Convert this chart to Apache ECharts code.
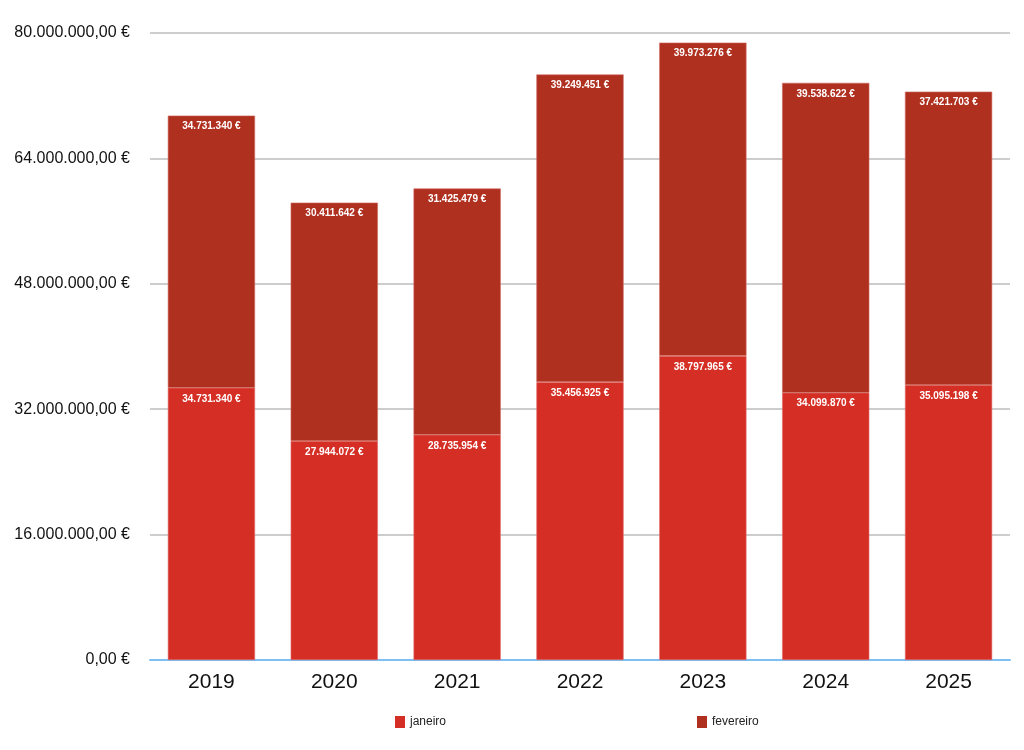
<!DOCTYPE html>
<html><head><meta charset="utf-8">
<script src="https://cdn.jsdelivr.net/npm/echarts@6/dist/echarts.min.js"></script>
<style>html,body{margin:0;padding:0;background:#fff}#c{width:1024px;height:750px}</style>
</head><body><div id="c"></div>
<script>
const years = ['2019','2020','2021','2022','2023','2024','2025'];
const janeiro = [34731340, 27944072, 28735954, 35456925, 38797965, 34099870, 35095198];
const fevereiro = [34731340, 30411642, 31425479, 39249451, 39973276, 39538622, 37421703];

function fmtInt(v){ return Math.round(v).toString().replace(/\B(?=(\d{3})+(?!\d))/g,'.'); }
function fmtAxis(v){ return fmtInt(v) + ',00 €'; }

const chart = echarts.init(document.getElementById('c'));
const labelStyle = {show:true, position:'insideTop', distance:6, color:'#fff', fontSize:10, fontWeight:'bold', fontFamily:'Liberation Sans, Arial, sans-serif', formatter:p=>fmtInt(p.value)+' €'};
const legendCommon = {top:711, icon:'rect', itemWidth:10, itemHeight:12, itemGap:8, itemStyle:{borderWidth:0}, textStyle:{fontSize:12,color:'#222'}};
chart.setOption({
  animation:false,
  textStyle:{fontFamily:'Liberation Sans, Arial, sans-serif'},
  grid:{left:150, right:14, top:33, bottom:90},
  legend:[
    Object.assign({data:['janeiro'], left:390}, legendCommon),
    Object.assign({data:['fevereiro'], left:692}, legendCommon)
  ],
  xAxis:{type:'category', data:years,
    axisLine:{lineStyle:{color:'#7cc0f5', width:2}},
    axisTick:{show:false},
    axisLabel:{fontSize:21, color:'#111', margin:12}},
  yAxis:{type:'value', min:0, max:80000000, interval:16000000,
    axisLabel:{formatter:fmtAxis, fontSize:16, color:'#111', margin:20},
    splitLine:{lineStyle:{color:'#bdbdbd', width:1.5}},
    axisLine:{show:false}, axisTick:{show:false}},
  series:[
    {name:'janeiro', type:'bar', stack:'t', data:janeiro, barWidth:'71%', itemStyle:{color:'#d52e25', borderColor:'#e2716b', borderWidth:0.6}, label:labelStyle},
    {name:'fevereiro', type:'bar', stack:'t', data:fevereiro, barWidth:'71%', itemStyle:{color:'#b03020', borderColor:'#d06a60', borderWidth:0.6}, label:labelStyle}
  ]
});
</script></body></html>
